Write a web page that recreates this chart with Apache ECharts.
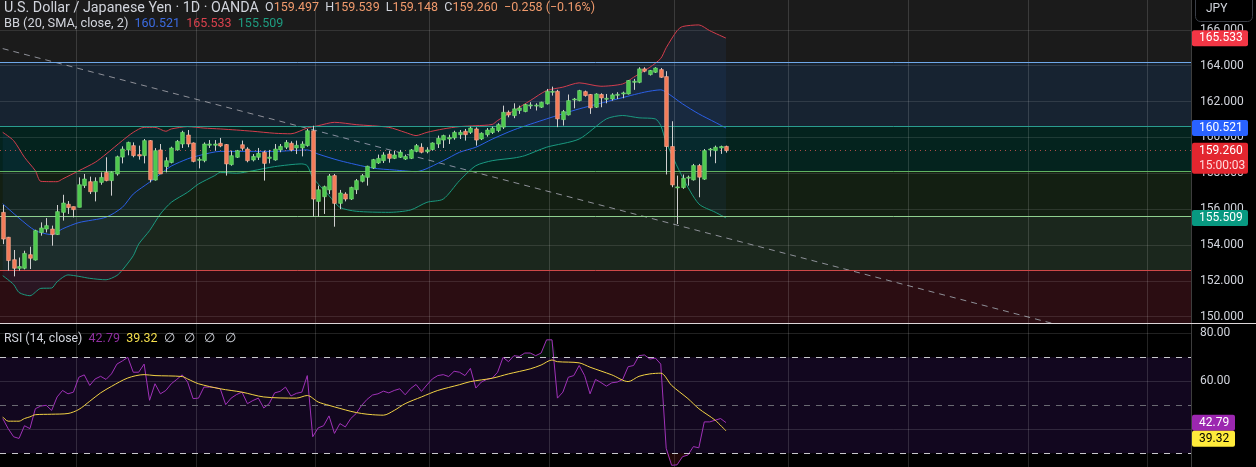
<!DOCTYPE html>
<html>
<head>
    <meta charset="UTF-8">
    <title>USDJPY 1D</title>
    <script src="https://cdn.jsdelivr.net/npm/echarts@6/dist/echarts.min.js"></script>
    <style>
        html, body { margin: 0; padding: 0; background: #000; }
        #container { width: 1256px; height: 467px; }
    </style>
</head>
<body>
<div id="container"></div>
<script>
    // --- data ---
    var categories = Array.from({ length: 219 }, function (_, i) { return String(i); });
    var monthStarts = [14, 36, 58, 79, 101, 124, 145, 167, 189, 211];

    var opens = [155.82,154.43,153.18,152.70,152.70,153.46,153.16,154.69,154.89,154.89,154.58,155.82,156.27,156.14,156.10,157.31,157.53,156.97,157.49,158.05,
        157.59,157.96,158.90,159.30,159.54,159.04,158.98,159.82,157.62,159.30,158.37,158.60,159.30,159.63,160.13,159.69,158.72,158.70,159.56,159.56,
        159.67,159.60,158.48,158.89,159.59,159.35,158.74,158.89,159.17,158.83,158.74,159.30,159.45,159.67,159.41,159.41,159.54,160.37,156.43,156.69,
        157.07,157.87,156.32,156.84,156.56,157.08,157.55,157.77,158.29,158.57,158.70,159.07,158.83,158.89,158.79,158.83,159.22,159.45,159.20,159.32,
        159.63,159.85,159.91,159.97,160.15,160.34,160.28,160.47,159.91,160.15,160.27,160.38,160.57,161.40,161.21,161.50,161.44,161.75,161.75,161.68,
        161.87,162.52,162.57,160.99,161.25,162.09,162.05,162.55,162.39,161.68,162.39,162.14,162.14,162.35,162.42,162.42,163.07,163.07,163.82,163.50,
        163.63,163.78,163.39,159.49,157.20,157.20,157.74,157.63,158.43,157.67,159.30,159.26,159.41,159.497];
    var highs = [156.23,154.45,153.72,153.30,153.68,153.90,154.85,155.26,155.50,155.08,156.23,156.80,156.45,156.14,157.77,157.96,157.81,157.77,158.05,158.89,
        158.10,158.98,159.50,159.76,159.72,159.54,159.91,159.85,159.40,159.63,158.89,159.48,159.85,160.37,160.41,159.72,158.89,159.72,159.85,159.85,
        159.97,159.63,159.26,159.30,159.82,159.45,159.07,159.41,159.26,159.30,159.63,159.63,159.85,159.78,159.82,159.78,160.47,160.65,157.31,157.31,
        157.96,157.96,157.07,156.94,157.25,157.68,157.96,158.42,158.80,159.04,159.17,159.26,159.26,159.30,159.04,159.35,159.63,159.67,159.45,159.72,
        160.10,160.15,160.15,160.37,160.41,160.47,160.60,160.56,160.28,160.52,160.60,160.79,161.77,161.50,161.90,161.77,161.87,161.96,161.90,161.99,
        162.70,162.83,162.65,161.53,162.39,162.20,162.65,162.61,162.42,162.46,162.46,162.42,162.46,162.52,162.55,163.20,163.26,163.91,163.91,163.76,
        163.91,163.87,163.69,160.90,157.87,157.93,157.87,158.52,158.52,159.35,159.41,159.54,159.54,159.539];
    var lows = [154.05,152.57,152.25,152.57,152.64,152.66,153.13,154.52,154.70,153.96,154.56,155.36,155.73,155.54,156.10,157.18,156.84,156.43,157.36,157.55,
        156.75,157.87,158.55,159.00,158.89,158.76,158.55,157.49,157.59,157.96,158.05,158.55,159.26,159.41,159.45,158.61,158.27,158.61,159.41,159.26,
        159.45,157.87,158.42,158.85,159.26,158.61,158.66,158.74,157.59,158.55,158.70,159.17,159.35,159.22,159.07,158.94,159.48,155.58,155.58,155.73,
        156.84,155.02,156.00,156.43,156.51,156.84,157.49,157.31,158.24,158.52,158.57,158.59,158.79,158.85,158.74,158.79,159.17,159.11,159.11,159.26,
        159.41,159.41,159.63,159.87,159.91,159.82,160.19,159.54,159.85,160.04,160.19,160.29,160.47,161.12,161.07,161.31,161.40,161.59,161.50,161.64,
        161.83,162.33,160.57,160.66,161.22,161.62,162.01,162.27,161.31,161.64,161.68,161.90,162.05,162.14,162.18,162.39,162.65,163.02,163.63,163.45,
        163.59,163.32,157.93,157.22,155.17,157.13,157.31,157.59,156.66,157.63,158.93,158.56,159.08,159.148];
    var closes = [154.33,153.13,152.70,152.80,153.53,153.26,154.80,154.95,155.08,154.58,155.86,156.34,156.08,155.97,157.36,157.68,156.97,157.55,157.77,157.59,
        158.05,158.92,159.35,159.72,158.98,158.96,159.82,157.64,159.26,157.96,158.70,159.41,159.78,160.28,159.63,158.66,158.78,159.63,159.63,159.63,
        159.52,158.52,158.98,159.26,159.39,158.70,158.94,159.11,158.55,158.90,159.35,159.50,159.72,159.30,159.56,159.63,160.37,156.56,157.08,157.25,
        157.85,156.32,156.90,156.56,157.21,157.59,157.87,158.39,158.76,158.83,159.02,158.83,159.02,159.17,158.94,159.30,159.54,159.17,159.30,159.69,
        159.95,160.10,160.00,160.28,160.28,160.15,160.52,159.85,160.23,160.41,160.51,160.71,161.40,161.25,161.59,161.64,161.83,161.81,161.80,161.96,
        162.57,162.57,161.03,161.44,162.05,162.14,162.61,162.33,161.64,162.42,162.20,162.18,162.37,162.40,162.48,163.17,163.13,163.82,163.69,163.73,
        163.87,163.35,159.49,157.35,157.24,157.72,157.78,158.43,157.78,159.26,159.35,159.45,159.49,159.260];

    // Bollinger Bands (20, SMA, close, 2), sampled [candle index, value]
    var bbBasis = [[0,156.3],[3,155.5],[6,154.8],[9,154.58],[11,154.9],[14,155.25],[19,155.55],[22,156.1],[24,156.84],[27,157.5],
        [29,157.96],[31,158.4],[34,158.8],[36,158.98],[40,159.22],[44,159.22],[50,159.22],[56,159.3],[58,159.07],[62,158.7],
        [68,158.29],[72,158.18],[76,158.09],[81,158.7],[84,159.17],[87,159.45],[90,159.9],[94,160.42],[100,161.03],[106,161.59],
        [113,162.14],[118,162.52],[121,162.65],[122,162.52],[125,161.87],[128,161.31],[131,160.84],[133,160.521]];
    var bbUpper = [[0,160.28],[2,159.82],[4,158.89],[6,158.14],[7,157.55],[10,157.53],[11,157.68],[14,158.14],[17,158.61],[19,159.07],
        [22,159.82],[24,160.28],[26,160.56],[28,160.56],[30,160.34],[31,160.47],[34,160.6],[37,160.52],[40,160.47],[43,160.41],
        [46,160.34],[50,160.23],[53,160.2],[56,160.52],[58,160.65],[61,160.84],[65,160.71],[71,160.56],[74,160.28],[76,160.1],
        [78,160.28],[81,160.47],[84,160.6],[87,160.65],[90,160.72],[91,160.94],[94,161.49],[97,162.05],[100,162.61],[103,162.8],
        [106,163.04],[110,162.85],[114,162.98],[116,163.35],[119,163.91],[121,164.4],[122,165.0],[124,165.95],[125,166.18],[128,166.27],
        [130,165.95],[133,165.533]];
    var bbLower = [[0,152.29],[2,151.8],[3,151.35],[5,151.17],[7,151.58],[9,151.6],[10,151.95],[12,152.33],[14,152.25],[16,152.14],
        [19,152.06],[21,152.3],[22,152.6],[24,153.4],[25,154.05],[27,154.8],[29,155.73],[31,156.38],[34,156.94],[36,157.4],
        [39,157.87],[40,158.05],[43,158.0],[46,158.14],[50,158.37],[55,158.52],[56,158.42],[57,157.77],[60,156.75],[62,156.1],
        [65,155.88],[71,155.82],[75,155.95],[78,156.38],[81,156.56],[84,157.59],[87,158.42],[90,158.7],[94,158.85],[96,158.98],
        [100,159.45],[106,159.91],[111,161.03],[114,161.22],[117,161.09],[120,161.03],[121,160.66],[122,159.73],[125,157.78],[128,156.29],
        [131,155.83],[133,155.509]];

    // RSI (14, close) per candle and its moving average (sampled)
    var rsi = [44.5,40.3,36.9,36.2,41.5,40.3,48.6,49.7,50.0,47.9,53.5,56.2,54.8,55.5,61.7,62.7,58.3,61.0,62.1,60.8,
        63.1,67.2,68.5,70.0,63.8,63.8,67.2,52.1,59.0,54.8,56.2,59.0,60.8,62.7,59.7,52.8,53.0,57.6,57.6,57.4,
        56.9,50.3,53.0,54.5,55.5,50.7,52.0,53.0,48.9,50.7,55.2,55.8,57.6,53.9,55.0,55.5,62.4,36.9,40.6,41.5,
        45.6,38.3,42.4,41.0,44.5,46.6,50.0,52.5,54.3,54.8,55.9,55.2,56.2,56.9,54.4,57.0,58.7,55.8,58.5,61.0,
        62.4,62.8,62.0,64.2,63.8,62.4,65.4,57.2,59.7,60.8,61.3,63.8,70.0,68.2,70.7,70.4,71.8,71.8,70.7,71.8,
        77.3,77.3,53.0,55.5,61.7,62.4,66.6,62.4,54.8,60.8,59.5,58.0,59.4,59.7,60.8,66.1,66.6,70.7,71.0,69.3,
        69.7,67.2,32.1,25.0,25.2,28.6,29.3,32.8,32.3,43.1,43.1,43.8,44.5,42.79];
    var rsiMa = [[0,45.2],[1,43.4],[3,43.4],[4,44.5],[5,45.2],[6,46.1],[9,46.3],[12,46.6],[14,48.3],[16,51.7],
        [18,55.2],[20,57.9],[23,61.4],[26,62.8],[28,62.4],[33,62.0],[34,61.0],[36,59.0],[40,56.9],[44,55.5],
        [48,53.5],[54,53.0],[56,54.1],[58,51.4],[60,50.0],[64,47.5],[66,46.6],[68,46.1],[70,45.9],[72,47.9],
        [74,50.7],[77,53.5],[80,56.2],[84,58.6],[86,59.9],[90,61.3],[93,63.1],[97,65.2],[99,66.8],[101,68.9],
        [102,68.2],[106,67.7],[108,65.9],[112,62.7],[115,59.9],[117,62.1],[119,63.1],[121,63.4],[123,58.3],[126,52.8],
        [128,48.6],[131,43.8],[133,39.32]];

    // drawn levels / tools
    var zoneLevels = [164.17, 160.6, 158.09, 155.58, 152.57, 149.65];
    var trendLine = [[0, 164.95], [193, 149.63]];
    var lastPrice = 159.26;
    var priceTicks = [150, 152, 154, 156, 158, 160, 162, 164, 166];
    var rsiTicks = [40, 60, 80];
    var rsiTickLabels = [60, 80];
    var rsiLevels = [70, 50, 30];

    var zoneFills = ['#172331', '#04231e', '#131f12', '#1b271d', '#2b0d12'];
    var zoneEdges = ['#6fa8e8', '#2a9d8f', '#62b462', '#8fd08f', '#d04848'];
    var FONT = 'Roboto, "Noto Sans", sans-serif';

    var candleData = opens.map(function (o, i) { return [i, o, closes[i], lows[i], highs[i]]; });

    function renderCandle(params, api) {
        var i = api.value(0), o = api.value(1), c = api.value(2), l = api.value(3), h = api.value(4);
        var pO = api.coord([i, o]), pC = api.coord([i, c]);
        var pL = api.coord([i, l]), pH = api.coord([i, h]);
        var w = api.size([1, 0])[0] * 0.68;
        var up = c >= o;
        var x = Math.round(pO[0]) + 0.5;
        var top = Math.min(pO[1], pC[1]);
        var hgt = Math.max(Math.abs(pO[1] - pC[1]), 1);
        return {
            type: 'group',
            children: [
                { type: 'line', shape: { x1: x, y1: pH[1], x2: x, y2: pL[1] }, style: { stroke: '#cfcfcf', lineWidth: 1 } },
                { type: 'rect', shape: { x: x - w / 2, y: top, width: w, height: hgt },
                  style: { fill: up ? '#4ec84e' : '#f47b58', stroke: up ? '#7fe07f' : '#ffb39a', lineWidth: 0.6 } }
            ]
        };
    }

    function renderBand(params, api) {
        var pts = [];
        bbUpper.forEach(function (p) { pts.push(api.coord(p)); });
        for (var k = bbLower.length - 1; k >= 0; k--) pts.push(api.coord(bbLower[k]));
        return { type: 'polygon', shape: { points: pts }, style: { fill: 'rgba(41,121,255,0.07)' } };
    }

    var zoneAreas = [];
    for (var z = 0; z < zoneFills.length; z++) {
        zoneAreas.push([{ yAxis: zoneLevels[z], itemStyle: { color: zoneFills[z] } }, { yAxis: zoneLevels[z + 1] }]);
    }
    var zoneLines = zoneEdges.map(function (c, k) {
        return { yAxis: zoneLevels[k], lineStyle: { color: c, width: 1, type: 'solid' } };
    });
    zoneLines.push({ yAxis: lastPrice, lineStyle: { color: 'rgba(225,95,85,0.75)', width: 1, type: [1, 4] } });

    function xAxisFor(gi) {
        return {
            type: 'category', gridIndex: gi, data: categories, boundaryGap: true, z: 2,
            axisLine: { show: false }, axisTick: { show: false }, axisLabel: { show: false },
            splitLine: { show: true, interval: function (i) { return monthStarts.indexOf(i) >= 0; },
                lineStyle: { color: 'rgba(255,255,255,0.14)' } }
        };
    }

    var myChart = echarts.init(document.getElementById('container'));
    myChart.setOption({
        backgroundColor: '#000',
        animation: false,
        grid: [
            { left: 0, right: 65, top: 0, height: 323, show: true, backgroundColor: '#1b1b1b', borderWidth: 0 },
            { left: 0, right: 65, top: 324, height: 143, show: true, backgroundColor: '#000', borderWidth: 0 }
        ],
        xAxis: [xAxisFor(0), xAxisFor(1)],
        yAxis: [
            {
                type: 'value', gridIndex: 0, position: 'right', min: 149.65, max: 167.66, z: 2,
                axisLine: { show: true, lineStyle: { color: '#3d3d3d' } },
                axisTick: { show: false, customValues: priceTicks },
                axisLabel: { customValues: priceTicks, margin: 9, color: '#d1d4dc', fontSize: 12, fontFamily: FONT,
                    formatter: function (v) { return v.toFixed(3); } },
                splitLine: { show: true, lineStyle: { color: 'rgba(255,255,255,0.11)' } }
            },
            {
                type: 'value', gridIndex: 1, position: 'right', min: 24.3, max: 83.9, z: 2,
                axisLine: { show: true, lineStyle: { color: '#3d3d3d' } },
                axisTick: { show: false, customValues: rsiTicks },
                axisLabel: { customValues: rsiTickLabels, margin: 9, color: '#d1d4dc', fontSize: 12, fontFamily: FONT,
                    formatter: function (v) { return v.toFixed(2); } },
                splitLine: { show: true, lineStyle: { color: 'rgba(255,255,255,0.13)' } }
            }
        ],
        series: [
            {
                name: 'trend', type: 'line', xAxisIndex: 0, yAxisIndex: 0, z: 1,
                data: trendLine, showSymbol: false, silent: true,
                lineStyle: { color: '#8e9098', width: 1, type: [6, 5] },
                markArea: { silent: true, data: zoneAreas },
                markLine: { silent: true, symbol: 'none', label: { show: false }, data: zoneLines }
            },
            {
                name: 'bbFill', type: 'custom', xAxisIndex: 0, yAxisIndex: 0, z: 3, silent: true,
                renderItem: renderBand, data: [[0, 158]]
            },
            {
                name: 'BB basis', type: 'line', xAxisIndex: 0, yAxisIndex: 0, z: 4, data: bbBasis,
                showSymbol: false, smooth: 0.25, lineStyle: { color: '#2b5fe6', width: 1 }
            },
            {
                name: 'BB upper', type: 'line', xAxisIndex: 0, yAxisIndex: 0, z: 4, data: bbUpper,
                showSymbol: false, smooth: 0.25, lineStyle: { color: '#d33d4d', width: 1 }
            },
            {
                name: 'BB lower', type: 'line', xAxisIndex: 0, yAxisIndex: 0, z: 4, data: bbLower,
                showSymbol: false, smooth: 0.25, lineStyle: { color: '#1a9a80', width: 1 }
            },
            {
                name: 'USDJPY', type: 'custom', xAxisIndex: 0, yAxisIndex: 0, z: 5,
                renderItem: renderCandle, data: candleData, encode: { x: 0, y: [1, 2, 3, 4] }
            },
            {
                // overbought shading: RSI above the upper band
                name: 'RSI OB', type: 'line', xAxisIndex: 1, yAxisIndex: 1, z: 3, silent: true,
                data: rsi.map(function (v) { return Math.max(v, rsiLevels[0]); }),
                showSymbol: false, lineStyle: { opacity: 0 },
                areaStyle: { origin: rsiLevels[0], color: 'rgba(40,150,80,0.18)' }
            },
            {
                // oversold shading: RSI below the lower band
                name: 'RSI OS', type: 'line', xAxisIndex: 1, yAxisIndex: 1, z: 3, silent: true,
                data: rsi.map(function (v) { return Math.min(v, rsiLevels[2]); }),
                showSymbol: false, lineStyle: { opacity: 0 },
                areaStyle: { origin: rsiLevels[2], color: 'rgba(200,45,45,0.22)' }
            },
            {
                name: 'RSI', type: 'line', xAxisIndex: 1, yAxisIndex: 1, z: 4, data: rsi,
                showSymbol: false, lineStyle: { color: '#a032b8', width: 1 },
                markArea: { silent: true, data: [[{ yAxis: rsiLevels[0], itemStyle: { color: '#12071f' } }, { yAxis: rsiLevels[2] }]] },
                markLine: {
                    silent: true, symbol: 'none', label: { show: false },
                    data: [
                        { yAxis: rsiLevels[0], lineStyle: { color: '#c8c8cc', type: [6, 6], width: 1 } },
                        { yAxis: rsiLevels[1], lineStyle: { color: '#6a6a72', type: [6, 6], width: 1 } },
                        { yAxis: rsiLevels[2], lineStyle: { color: '#c8c8cc', type: [6, 6], width: 1 } }
                    ]
                }
            },
            {
                name: 'RSI MA', type: 'line', xAxisIndex: 1, yAxisIndex: 1, z: 5, data: rsiMa,
                showSymbol: false, smooth: 0.3, lineStyle: { color: '#f2d244', width: 1 }
            }
        ]
    });

    // header texts
    function headRich(titleSize, colors) {
        var r = { t: { fill: '#d1d4dc', fontSize: titleSize, fontFamily: FONT } };
        Object.keys(colors).forEach(function (k) {
            r[k] = { fill: colors[k], fontSize: 12.5, fontFamily: FONT };
        });
        return r;
    }
    var head = [
        {
            type: 'text', x: 4, y: 8, z: 60,
            style: {
                text: '{t|U.S. Dollar / Japanese Yen · 1D · OANDA}{k|  O}{v|159.497}{k|  H}{v|159.539}{k|  L}{v|159.148}{k|  C}{v|159.260}{v|  \u22120.258 (\u22120.16%)}',
                verticalAlign: 'middle', rich: headRich(14.3, { k: '#d1d4dc', v: '#f09a6c' })
            }
        },
        {
            type: 'text', x: 4, y: 24, z: 60,
            style: {
                text: '{t|BB (20, SMA, close, 2)}{b|  160.521}{r|  165.533}{g|  155.509}',
                verticalAlign: 'middle', rich: headRich(12.8, { b: '#3b6be0', r: '#d9414d', g: '#1e9c80' })
            }
        },
        {
            type: 'text', x: 4, y: 339, z: 60,
            style: {
                text: '{t|RSI (14, close)}{p|  42.79}{y|  39.32}{k|  \u2205   \u2205   \u2205   \u2205}',
                verticalAlign: 'middle', rich: headRich(12.3, { p: '#8e2f9e', y: '#f5df4d', k: '#d1d4dc' })
            }
        },
        { type: 'line', z: 60, shape: { x1: 0, y1: 323.5, x2: 1256, y2: 323.5 }, style: { stroke: '#dcd6d8', lineWidth: 1 } },
        { type: 'rect', z: 60, shape: { x: 1195.5, y: -6.5, width: 57, height: 28, r: 5 }, style: { fill: '#000', stroke: '#3a3e47', lineWidth: 1 } },
        { type: 'text', z: 61, x: 1206, y: 9, style: { text: 'JPY', fill: '#d1d4dc', font: '12px ' + FONT, verticalAlign: 'middle' } }
    ];

    // value tags on the price / RSI scales, positioned through the axes;
    // a tag that would overlap the one above it is pushed down (as the scale does)
    var lastBottom = {};
    function tag(value, axis, text, bg, fg, w, sub) {
        var y = myChart.convertToPixel({ yAxisIndex: axis }, value);
        if (lastBottom[axis] !== undefined && y - 8 < lastBottom[axis]) y = lastBottom[axis] + 8;
        var h = sub ? 31 : 16;
        var top = y - 8;
        lastBottom[axis] = top + h;
        var out = [
            { type: 'rect', z: 70, shape: { x: 1192, y: top, width: w, height: h, r: 2 }, style: { fill: bg } },
            { type: 'text', z: 71, x: 1199, y: y, style: { text: text, fill: fg, font: '12px ' + FONT, verticalAlign: 'middle' } }
        ];
        if (sub) {
            out.push({ type: 'text', z: 71, x: 1199, y: y + 15, style: { text: sub, fill: '#ffd9dc', font: '12px ' + FONT, verticalAlign: 'middle' } });
        }
        return out;
    }

    var tags = [].concat(
        tag(165.533, 0, '165.533', '#f23645', '#fff', 56),
        tag(160.521, 0, '160.521', '#2962ff', '#fff', 56),
        tag(lastPrice, 0, '159.260', '#e3262f', '#fff', 56, '15:00:03'),
        tag(155.509, 0, '155.509', '#089981', '#fff', 56),
        tag(42.79, 1, '42.79', '#9c27b0', '#fff', 43),
        tag(39.32, 1, '39.32', '#ffeb3b', '#000', 43)
    );

    myChart.setOption({ graphic: head.concat(tags) });
</script>
</body>
</html>
